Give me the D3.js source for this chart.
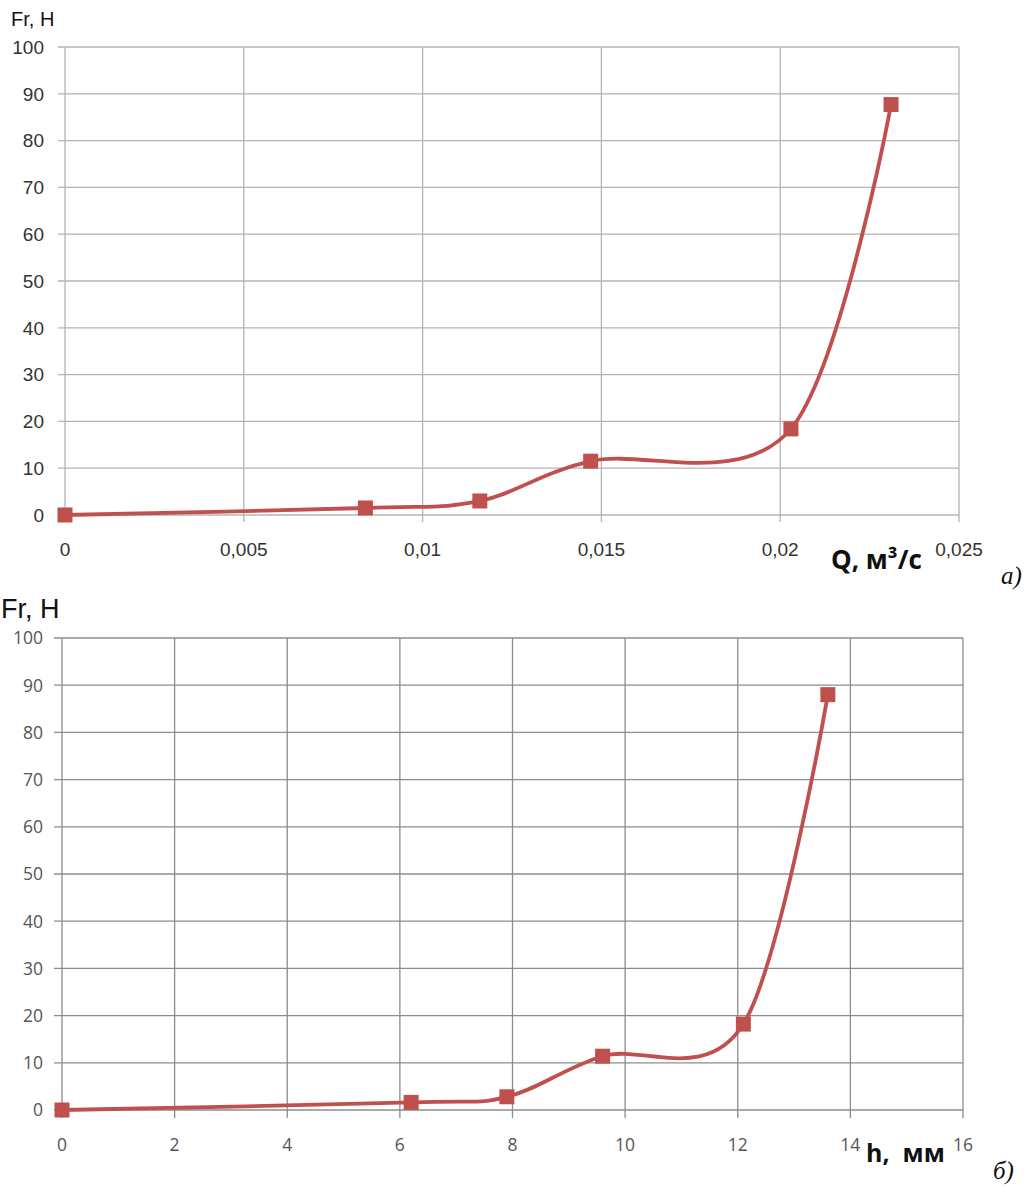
<!DOCTYPE html>
<html>
<head>
<meta charset="utf-8">
<script src="https://cdn.jsdelivr.net/npm/d3@7"></script>
<style>
  body { margin: 0; background: #fff; }
  svg { display: block; }
</style>
</head>
<body>
<div id="chart"></div>
<script>
// chart a) - Fr vs Q
var qValues  = [0, 0.0084, 0.0116, 0.0147, 0.0203, 0.0231];
var frValuesA = [0, 1.5, 3.0, 11.5, 18.4, 87.7];
var qTicks = [0, 0.005, 0.01, 0.015, 0.02, 0.025];
var qTickLabels = ["0", "0,005", "0,01", "0,015", "0,02", "0,025"];

// chart б) - Fr vs h
var hValues  = [0, 6.2, 7.9, 9.6, 12.1, 13.6];
var frValuesB = [0, 1.6, 2.8, 11.4, 18.2, 88.0];
var hTicks = [0, 2, 4, 6, 8, 10, 12, 14, 16];

var frTicks = [0, 10, 20, 30, 40, 50, 60, 70, 80, 90, 100];

var lineColor = "#c0504d";

var svg = d3.select("#chart")
  .append("svg")
    .attr("width", 1024)
    .attr("height", 1187);

function drawChart(opt) {
  var g = svg.append("g");

  var x = d3.scaleLinear().domain(opt.xDomain).range([opt.left, opt.right]);
  var y = d3.scaleLinear().domain([0, 100]).range([opt.bottom, opt.top]);

  // grid
  g.selectAll(".hgrid")
    .data(frTicks)
    .enter().append("line")
      .attr("x1", opt.left - opt.tick).attr("x2", opt.right)
      .attr("y1", function(d) { return y(d); })
      .attr("y2", function(d) { return y(d); })
      .attr("stroke", opt.gridColor)
      .attr("stroke-width", 1.3);

  g.selectAll(".vgrid")
    .data(opt.xTicks)
    .enter().append("line")
      .attr("x1", function(d) { return x(d); })
      .attr("x2", function(d) { return x(d); })
      .attr("y1", opt.top)
      .attr("y2", opt.bottom + opt.tick)
      .attr("stroke", opt.gridColor)
      .attr("stroke-width", 1.3);

  // y tick labels
  g.selectAll(".ylab")
    .data(frTicks)
    .enter().append("text")
      .attr("x", opt.yLabelX)
      .attr("y", function(d) { return y(d); })
      .attr("dy", "0.36em")
      .attr("text-anchor", "end")
      .style("font-family", opt.tickFont)
      .style("font-size", opt.tickSize + "px")
      .style("fill", opt.tickColor)
      .text(function(d) { return d; });

  // x tick labels
  g.selectAll(".xlab")
    .data(opt.xTicks)
    .enter().append("text")
      .attr("x", function(d) { return x(d); })
      .attr("y", opt.xLabelY)
      .attr("dy", "0.36em")
      .attr("text-anchor", "middle")
      .style("font-family", opt.tickFont)
      .style("font-size", opt.tickSize + "px")
      .style("fill", opt.tickColor)
      .text(function(d, i) { return opt.xTickLabels[i]; });

  var pts = opt.xs.map(function(d, i) { return [d, opt.ys[i]]; });

  // smoothed line
  var line = d3.line()
    .x(function(d) { return x(d[0]); })
    .y(function(d) { return y(d[1]); })
    .curve(d3.curveCatmullRom.alpha(0));

  g.append("path")
    .datum(pts)
    .attr("d", line)
    .attr("fill", "none")
    .attr("stroke", lineColor)
    .attr("stroke-width", 3.8);

  // markers
  var s = 15;
  g.selectAll(".mk")
    .data(pts)
    .enter().append("rect")
      .attr("x", function(d) { return x(d[0]) - s / 2; })
      .attr("y", function(d) { return y(d[1]) - s / 2; })
      .attr("width", s)
      .attr("height", s)
      .attr("fill", lineColor);

  // axis titles
  g.append("text")
    .attr("x", opt.yTitle[0]).attr("y", opt.yTitle[1])
    .style("font-family", opt.yTitleFont)
    .style("font-size", opt.yTitleSize + "px")
    .style("fill", "#111")
    .text("Fr, H");

  g.append("text")
    .attr("x", opt.xTitle[0]).attr("y", opt.xTitle[1])
    .style("font-family", "'Open Sans', sans-serif")
    .style("font-weight", "bold")
    .style("font-size", opt.xTitleSize + "px")
    .style("white-space", "pre")
    .style("fill", "#111")
    .text(opt.xTitleText);

  g.append("text")
    .attr("x", opt.letter[0]).attr("y", opt.letter[1])
    .style("font-family", "'Liberation Serif', serif")
    .style("font-style", "italic")
    .style("font-size", "25px")
    .style("fill", "#111")
    .text(opt.letterText);
}

drawChart({
  xDomain: [0, 0.025], left: 65, right: 959, top: 47, bottom: 515, tick: 7,
  xTicks: qTicks, xTickLabels: qTickLabels,
  xs: qValues, ys: frValuesA,
  gridColor: "#b4b4b4",
  tickFont: "'Liberation Sans', Arial, sans-serif", tickSize: 19, tickColor: "#333",
  yLabelX: 44, xLabelY: 549,
  yTitle: [11, 26], yTitleFont: "'Liberation Sans', Arial, sans-serif", yTitleSize: 20,
  xTitle: [831, 569], xTitleSize: 26, xTitleText: "Q, м³/с",
  letter: [1001, 584], letterText: "а)"
});

drawChart({
  xDomain: [0, 16], left: 62, right: 963, top: 638, bottom: 1110, tick: 8,
  xTicks: hTicks, xTickLabels: hTicks.map(String),
  xs: hValues, ys: frValuesB,
  gridColor: "#8c8c8c",
  tickFont: "'Open Sans', sans-serif", tickSize: 17.5, tickColor: "#555",
  yLabelX: 43, xLabelY: 1145,
  yTitle: [1, 618], yTitleFont: "'Liberation Sans', Arial, sans-serif", yTitleSize: 27,
  xTitle: [866, 1162], xTitleSize: 25, xTitleText: "h,\u00a0\u00a0мм",
  letter: [993, 1179], letterText: "б)"
});
</script>
</body>
</html>
